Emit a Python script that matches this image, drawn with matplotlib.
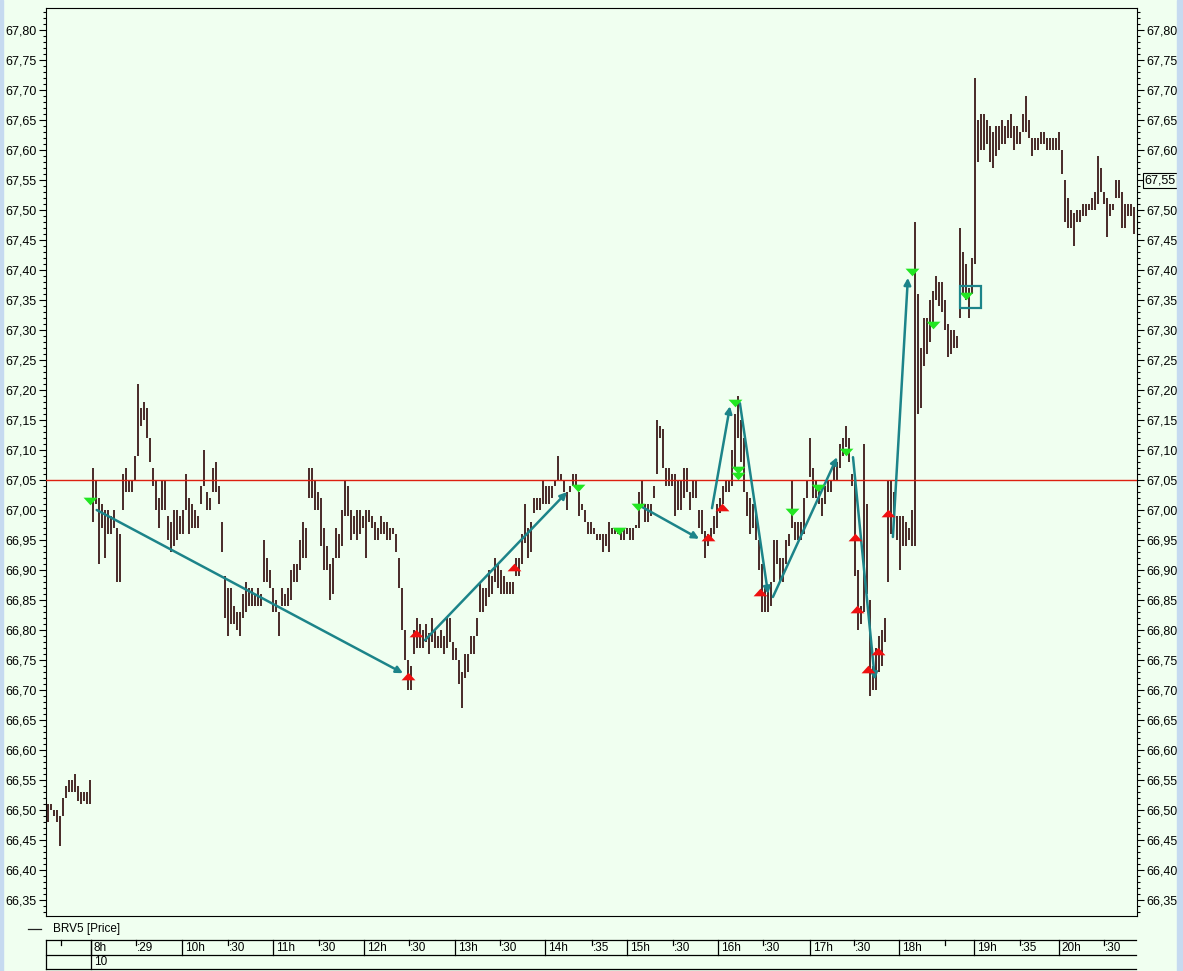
import matplotlib
matplotlib.use('Agg')
import matplotlib.pyplot as plt
from matplotlib.ticker import MultipleLocator, FuncFormatter
from matplotlib.patches import Rectangle
from matplotlib.lines import Line2D
import numpy as np

# bar highs / lows, one bar per minute slot (first 15 = previous day)
highs = [
    66.51, 66.51, 66.50, 66.50, 66.49, 66.52, 66.54, 66.55, 66.55, 66.56, 66.54, 66.53, 66.53, 66.53, 66.55,
    67.07, 67.05, 67.02, 67.01, 67.00, 67.00, 66.99, 67.00, 66.97, 66.96, 67.06, 67.07, 67.05, 67.05, 67.09,
    67.21, 67.17, 67.18, 67.17, 67.12, 67.07, 67.05, 67.02, 67.05, 67.05, 66.99, 66.98, 67.00, 67.00, 66.99,
    67.00, 67.06, 67.02, 67.01, 67.00, 66.99, 67.04, 67.10, 67.03, 67.02, 67.07, 67.08, 67.04, 66.98, 66.89,
    66.87, 66.87, 66.84, 66.83, 66.83, 66.86, 66.88, 66.87, 66.87, 66.86, 66.87, 66.86, 66.95, 66.92, 66.90,
    66.87, 66.85, 66.83, 66.87, 66.86, 66.87, 66.90, 66.91, 66.91, 66.95, 66.98, 66.97, 67.07, 67.07, 67.05,
    67.03, 67.02, 66.97, 66.94, 66.91, 66.92, 66.97, 66.96, 67.00, 67.05, 67.04, 67.00, 66.99, 67.00, 67.00,
    66.99, 67.00, 67.00, 66.99, 66.98, 66.97, 66.99, 66.98, 66.98, 66.97, 66.97, 66.96, 66.92, 66.87, 66.80,
    66.75, 66.74, 66.80, 66.82, 66.81, 66.80, 66.81, 66.795, 66.82, 66.80, 66.79, 66.80, 66.79, 66.82, 66.82,
    66.78, 66.77, 66.75, 66.73, 66.76, 66.76, 66.79, 66.79, 66.82, 66.88, 66.87, 66.87, 66.90, 66.89, 66.92,
    66.91, 66.90, 66.89, 66.88, 66.88, 66.88, 66.92, 66.92, 66.96, 67.01, 66.97, 66.98, 67.02, 67.02, 67.02,
    67.05, 67.04, 67.04, 67.04, 67.05, 67.09, 67.06, 67.05, 67.03, 67.04, 67.06, 67.06, 67.03, 67.01, 67.00,
    66.98, 66.98, 66.97, 66.96, 66.96, 66.96, 66.96, 66.98, 66.97, 66.97, 66.97, 66.97, 66.97, 66.97, 66.97,
    66.97, 66.975, 67.03, 67.05, 67.01, 67.01, 67.01, 67.04, 67.15, 67.14, 67.135, 67.07, 67.07, 67.06, 67.06,
    67.05, 67.05, 67.07, 67.07, 67.03, 67.05, 67.05, 67.00, 67.00, 66.965, 66.96, 66.97, 66.99, 67.01, 67.02,
    67.04, 67.05, 67.05, 67.10, 67.16, 67.19, 67.15, 67.12, 67.03, 67.02, 67.01, 66.995, 66.95, 66.91, 66.87,
    66.87, 66.88, 66.95, 66.95, 66.92, 66.92, 66.95, 66.96, 67.05, 66.98, 66.98, 66.98, 67.02, 67.05, 67.12,
    67.07, 67.05, 67.04, 67.02, 67.04, 67.05, 67.05, 67.08, 67.08, 67.11, 67.12, 67.14, 67.12, 67.06, 67.05,
    66.90, 66.84, 67.11, 67.01, 66.85, 66.74, 66.77, 66.79, 66.80, 66.82, 67.05, 67.05, 67.03, 66.99, 66.99,
    66.99, 66.98, 66.97, 67.00, 67.48, 67.36, 67.27, 67.32, 67.32, 67.35, 67.365, 67.39, 67.38, 67.38, 67.35,
    67.31, 67.30, 67.30, 67.29, 67.47, 67.43, 67.41, 67.37, 67.42, 67.72, 67.65, 67.66, 67.66, 67.65, 67.64,
    67.63, 67.64, 67.64, 67.65, 67.64, 67.65, 67.66, 67.64, 67.64, 67.63, 67.66, 67.69, 67.65, 67.62, 67.62,
    67.62, 67.63, 67.63, 67.62, 67.62, 67.62, 67.62, 67.63, 67.60, 67.55, 67.52, 67.50, 67.495, 67.50, 67.50,
    67.51, 67.51, 67.51, 67.52, 67.53, 67.59, 67.57, 67.53, 67.52, 67.51, 67.51, 67.55, 67.55, 67.53, 67.51,
    67.51, 67.51, 67.505,
]
lows = [
    66.48, 66.50, 66.49, 66.48, 66.44, 66.49, 66.52, 66.53, 66.53, 66.53, 66.515, 66.51, 66.515, 66.51, 66.51,
    66.98, 67.01, 66.91, 66.97, 66.92, 66.96, 66.96, 66.97, 66.88, 66.88, 67.00, 67.03, 67.03, 67.03, 67.05,
    67.09, 67.14, 67.15, 67.12, 67.08, 67.04, 67.00, 66.97, 67.00, 67.00, 66.95, 66.93, 66.94, 66.95, 66.96,
    66.96, 67.00, 66.96, 66.97, 66.97, 66.97, 67.01, 67.04, 67.00, 67.00, 67.03, 67.03, 67.01, 66.93, 66.82,
    66.79, 66.81, 66.81, 66.80, 66.79, 66.82, 66.83, 66.84, 66.84, 66.84, 66.84, 66.84, 66.88, 66.88, 66.87,
    66.83, 66.83, 66.79, 66.84, 66.84, 66.84, 66.85, 66.88, 66.88, 66.90, 66.92, 66.92, 67.02, 67.02, 67.00,
    67.00, 66.94, 66.90, 66.90, 66.85, 66.86, 66.92, 66.92, 66.94, 66.99, 66.99, 66.95, 66.96, 66.95, 66.96,
    66.97, 66.92, 66.98, 66.97, 66.95, 66.95, 66.96, 66.96, 66.95, 66.95, 66.96, 66.93, 66.87, 66.80, 66.75,
    66.70, 66.70, 66.76, 66.77, 66.77, 66.77, 66.78, 66.76, 66.78, 66.77, 66.77, 66.77, 66.76, 66.77, 66.78,
    66.75, 66.75, 66.71, 66.67, 66.72, 66.73, 66.76, 66.76, 66.79, 66.83, 66.83, 66.84, 66.855, 66.86, 66.88,
    66.87, 66.86, 66.86, 66.86, 66.86, 66.86, 66.89, 66.89, 66.91, 66.945, 66.92, 66.93, 66.995, 67.00, 67.00,
    67.01, 67.01, 67.01, 67.02, 67.04, 67.05, 67.05, 67.03, 67.00, 67.03, 67.04, 67.04, 66.99, 67.00, 66.98,
    66.96, 66.96, 66.96, 66.95, 66.95, 66.93, 66.94, 66.93, 66.96, 66.96, 66.96, 66.95, 66.95, 66.96, 66.95,
    66.95, 66.97, 66.97, 67.005, 66.98, 66.98, 66.99, 67.02, 67.06, 67.12, 67.07, 67.04, 67.04, 67.04, 66.99,
    67.00, 67.00, 67.02, 67.03, 67.00, 67.02, 67.02, 66.97, 66.96, 66.92, 66.94, 66.95, 66.96, 66.97, 66.995,
    67.01, 67.03, 67.03, 67.04, 67.07, 67.12, 67.08, 67.03, 66.99, 66.96, 66.97, 66.95, 66.90, 66.83, 66.83,
    66.83, 66.84, 66.88, 66.91, 66.88, 66.88, 66.91, 66.94, 66.97, 66.95, 66.95, 66.95, 66.96, 67.02, 67.055,
    67.02, 67.02, 67.01, 66.99, 67.01, 67.03, 67.03, 67.05, 67.05, 67.07, 67.09, 67.105, 67.08, 67.04, 66.89,
    66.80, 66.81, 66.83, 66.86, 66.69, 66.70, 66.70, 66.73, 66.74, 66.78, 66.88, 66.96, 66.99, 66.95, 66.90,
    66.94, 66.94, 66.95, 66.94, 66.94, 67.16, 67.17, 67.24, 67.26, 67.28, 67.305, 67.35, 67.34, 67.33, 67.30,
    67.255, 67.26, 67.27, 67.27, 67.32, 67.36, 67.35, 67.32, 67.36, 67.41, 67.58, 67.60, 67.60, 67.61, 67.58,
    67.57, 67.59, 67.60, 67.61, 67.61, 67.62, 67.62, 67.60, 67.61, 67.61, 67.63, 67.63, 67.62, 67.59, 67.60,
    67.60, 67.61, 67.61, 67.60, 67.60, 67.60, 67.60, 67.60, 67.56, 67.48, 67.47, 67.47, 67.44, 67.48, 67.48,
    67.49, 67.49, 67.50, 67.50, 67.50, 67.51, 67.53, 67.51, 67.455, 67.49, 67.50, 67.52, 67.52, 67.47, 67.47,
    67.49, 67.49, 67.46,
]

ref_level = 67.05
last_price = 67.55

# signals (bar index, price)
sell_idx = [14.2, 176.8, 190.5, 196.8, 229.2, 230.0, 230.0, 248.2, 256.8, 266.2, 288.2, 295.2, 306.2]
sell_price = [67.015, 67.037, 66.965, 67.005, 67.178, 67.067, 67.057, 66.997, 67.037, 67.097, 67.397, 67.308, 67.357]
buy_idx = [120.2, 122.8, 155.5, 220.2, 224.8, 237.5, 269.2, 269.8, 273.5, 276.8, 280.2]
buy_price = [66.723, 66.795, 66.905, 66.955, 67.005, 66.863, 66.955, 66.835, 66.735, 66.765, 66.995]

# trend arrows
arr_x0 = [16.4, 125.8, 198.2, 221.5, 230.8, 241.8, 268.5, 281.8]
arr_y0 = [67.000, 66.783, 67.005, 67.003, 67.178, 66.855, 67.088, 66.955]
arr_x1 = [118.5, 173.2, 217.2, 227.5, 240.2, 263.2, 275.8, 286.8]
arr_y1 = [66.728, 67.030, 66.952, 67.173, 66.860, 67.088, 66.717, 67.387]

# time axis labels (bar index of separators)
hour_labels = ['8h', '10h', '11h', '12h', '13h', '14h', '15h', '16h', '17h', '18h', '19h', '20h']
hour_pos = [14.5, 44.8, 75.2, 105.5, 135.8, 165.8, 193.2, 223.5, 254.2, 283.8, 308.8, 337.2]
half_labels = ['', ':29', ':30', ':30', ':30', ':30', ':35', ':30', ':30', ':30', '', ':35', ':30']
half_pos = [4.5, 29.5, 60.2, 90.5, 120.5, 150.8, 181.5, 208.5, 238.5, 268.8, 299.2, 324.2, 352.2]
day_label = '10'

BG = '#f0fff0'
BAR = '#2c0606'
TEAL = '#1c8489'
W, H = 1183, 971

plt.rcParams['font.family'] = ['Liberation Sans', 'DejaVu Sans']
plt.rcParams['font.size'] = 9


def fbox(x0, y0, x1, y1):
    return [x0 / W, 1 - y1 / H, (x1 - x0) / W, (y1 - y0) / H]


fig = plt.figure(figsize=(W / 100, H / 100), dpi=100, facecolor=BG)
fig.patches.append(Rectangle((0, 0), 3 / W, 1, transform=fig.transFigure, color='#c6daf0', zorder=0))
fig.patches.append(Rectangle((1177 / W, 0), 6 / W, 1, transform=fig.transFigure, color='#c6daf0', zorder=0))

ax = fig.add_axes(fbox(46, 8, 1137, 916), facecolor=BG)
idx = np.arange(len(highs))
ax.vlines(idx, lows, highs, color=BAR, lw=1.2, zorder=2)
ax.axhline(ref_level, color='#dd2010', lw=1.0, zorder=3)

for x0, y0, x1, y1 in zip(arr_x0, arr_y0, arr_x1, arr_y1):
    ax.annotate('', xy=(x1, y1), xytext=(x0, y0),
                arrowprops=dict(arrowstyle='-|>', color=TEAL, lw=1.8,
                                mutation_scale=10, shrinkA=0, shrinkB=0), zorder=4)

down_tri = [(-1, 0.55), (1, 0.55), (0, -0.55), (-1, 0.55)]
up_tri = [(-1, -0.55), (1, -0.55), (0, 0.55), (-1, -0.55)]
ax.plot(sell_idx, sell_price, ls='none', marker=down_tri, ms=10, color='#22e622', mec='none', zorder=5)
ax.plot(buy_idx, buy_price, ls='none', marker=up_tri, ms=10, color='#ee1010', mec='none', zorder=5)

ax.add_patch(Rectangle((304.2, 67.337), 7.0, 0.036, fill=False, ec=TEAL, lw=1.6, zorder=6))

ax.set_xlim(-0.5, (1137 - 47.5) / 3)
ax.set_ylim(66.3233, 67.8367)
ax.set_xticks([])
ax.yaxis.set_major_locator(MultipleLocator(0.05))
ax.yaxis.set_minor_locator(MultipleLocator(0.01))
ax.yaxis.set_major_formatter(FuncFormatter(lambda v, p: f'{v:.2f}'.replace('.', ',')))
ax.tick_params(axis='y', which='both', left=True, right=True, labelleft=True, labelright=True,
               direction='out', width=0.8, colors='black', labelsize=9)
ax.tick_params(axis='y', which='major', length=5, pad=1.5)
ax.tick_params(axis='y', which='minor', length=2.5)
for s in ax.spines.values():
    s.set_color('black')
    s.set_linewidth(0.8)

ax.text(1.0068, last_price, f'{last_price:.2f}'.replace('.', ','), transform=ax.get_yaxis_transform(),
        ha='left', va='center', fontsize=9,
        bbox=dict(boxstyle='square,pad=0.12', fc=BG, ec='black', lw=0.8), zorder=10)

# legend line
fig.add_artist(Line2D([28 / W, 41 / W], [1 - 929 / H, 1 - 929 / H], color='#222222', lw=0.9))
fig.text(53 / W, 1 - 929 / H, 'BRV5 [Price]', ha='left', va='center', fontsize=8.5)

# time table
tax = fig.add_axes(fbox(46, 936, 1137, 971), facecolor=BG)
tax.set_xlim(ax.get_xlim())
tax.set_ylim(971, 936)
tax.axis('off')
xr = (1136 - 47.5) / 3
for yy in (940, 955, 969):
    tax.plot([-0.5, xr], [yy, yy], color='black', lw=0.9, clip_on=False)
tax.plot([-0.5, -0.5], [940, 969], color='black', lw=0.9, clip_on=False)
tax.plot([hour_pos[0], hour_pos[0]], [940, 969], color='black', lw=0.9, clip_on=False)
for p, lab in zip(hour_pos, hour_labels):
    tax.plot([p, p], [940, 955], color='black', lw=0.9, clip_on=False)
    tax.text(p + 0.9, 948, lab, ha='left', va='center', fontsize=8.5)
for p, lab in zip(half_pos, half_labels):
    tax.plot([p, p], [940, 945], color='black', lw=0.9, clip_on=False)
    tax.text(p + 0.4, 948, lab, ha='left', va='center', fontsize=8.5)
tax.text(hour_pos[0] + 0.9, 962, day_label, ha='left', va='center', fontsize=8.5)

fig.savefig('out.png', dpi=100, facecolor=BG)
